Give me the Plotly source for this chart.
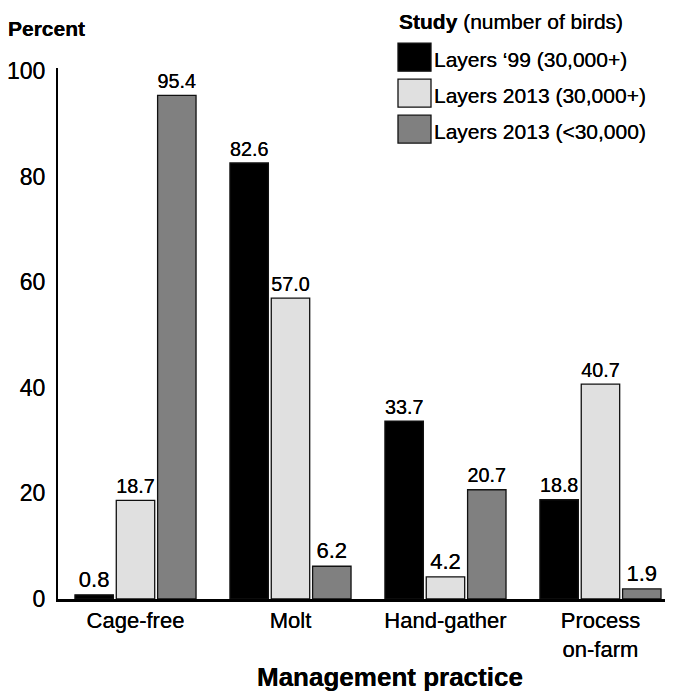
import plotly.graph_objects as go

categories = ["Cage-free", "Molt", "Hand-gather", "Process<br>on-farm"]
series_names = ["Layers \u201899 (30,000+)", "Layers 2013 (30,000+)", "Layers 2013 (<30,000)"]
layers_99 = [0.8, 82.6, 33.7, 18.8]
layers_2013_big = [18.7, 57.0, 4.2, 40.7]
layers_2013_small = [95.4, 6.2, 20.7, 1.9]
colors = ["#000000", "#e0e0e0", "#808080"]

FONT = "Liberation Sans, Arial, sans-serif"
SH = "0px 0px 0.6px #000"
OFF = 8  # page body margin

fig = go.Figure()
for name, vals, col in zip(series_names, [layers_99, layers_2013_big, layers_2013_small], colors):
    fig.add_trace(go.Bar(
        x=categories, y=vals, name=name,
        marker=dict(color=col, line=dict(color="#111111", width=1.3)),
        text=[f"{v:.1f}" for v in vals], textposition="outside",
        textfont=dict(size=22, color="black", family=FONT, shadow=SH),
        cliponaxis=False, showlegend=False,
    ))

# screen-pixel geometry of plot area
L, R, T, B = 58, 673, 67.8, 599.5
W, H = R - L, B - T
def px(x): return (x - L) / W
def py(y): return (B - y) / H

shapes = []
annotations = []
sq = [(43, 71), (79, 107), (115, 143)]
for (y0, y1), col, name in zip(sq, colors, series_names):
    shapes.append(dict(type="rect", xref="paper", yref="paper",
                       x0=px(398), x1=px(431), y0=py(y1), y1=py(y0),
                       fillcolor=col, line=dict(color="#111111", width=1.3)))
    annotations.append(dict(xref="paper", yref="paper", x=px(432), y=py((y0 + y1) / 2 + 2),
                            text=name, showarrow=False, xanchor="left", yanchor="middle",
                            font=dict(size=21, family=FONT, color="black", shadow=SH)))
annotations.append(dict(xref="paper", yref="paper", x=px(397), y=py(21),
                        text="<b>Study</b> (number of birds)", showarrow=False,
                        xanchor="left", yanchor="middle",
                        font=dict(size=21, family=FONT, color="black", shadow=SH)))
annotations.append(dict(xref="paper", yref="paper", x=px(6), y=py(28),
                        text="<b>Percent</b>", showarrow=False,
                        xanchor="left", yanchor="middle",
                        font=dict(size=21, family=FONT, color="black", shadow=SH)))
annotations.append(dict(xref="paper", yref="paper", x=px(390), y=py(678),
                        text="<b>Management practice</b>", showarrow=False,
                        xanchor="center", yanchor="middle",
                        font=dict(size=26, family=FONT, color="black", shadow=SH)))

FW, FH = 673 - OFF, 692 - OFF
fig.update_layout(
    width=FW, height=FH,
    margin=dict(l=L - OFF, r=FW - (R - OFF), t=T - OFF, b=FH - (B - OFF), pad=0),
    paper_bgcolor="white", plot_bgcolor="white",
    barmode="group", bargap=0.2, bargroupgap=0.07,
    font=dict(family=FONT, color="black"),
    shapes=shapes, annotations=annotations,
    xaxis=dict(range=[-0.5, 3.468], showline=True, linecolor="black", linewidth=3,
               ticks="", showgrid=False, tickfont=dict(size=22, shadow=SH)),
    yaxis=dict(range=[0, 100.6], showline=True, linecolor="black", linewidth=2,
               ticks="", showgrid=False, zeroline=False,
               tickvals=[0, 20, 40, 60, 80, 100], tickfont=dict(size=23, shadow=SH),
               ticklabelstandoff=6),
)
fig.write_html("out.html")
